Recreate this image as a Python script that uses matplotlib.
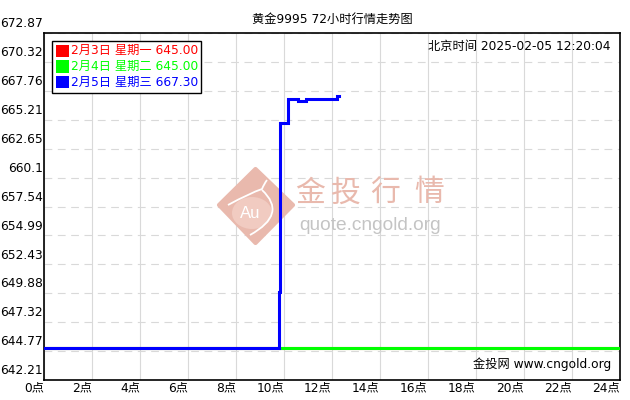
import matplotlib
matplotlib.use('Agg')
import matplotlib.pyplot as plt
import matplotlib.transforms as mtransforms
from matplotlib.patches import Polygon, Rectangle, PathPatch, Ellipse
from matplotlib.path import Path

plt.rcParams['font.family'] = ['DejaVu Sans', 'Noto Sans CJK SC']

W, H = 630, 400

HOUR_TICKS = list(range(0, 25, 2))
HOUR_LABELS = ['%d点' % h for h in HOUR_TICKS]
PRICE_TICKS = [642.21, 644.77, 647.32, 649.88, 652.43, 654.99, 657.54,
               660.1, 662.65, 665.21, 667.76, 670.32, 672.87]

day_labels = ['2月3日 星期一', '2月4日 星期二', '2月5日 星期三']
day_colors = ['#ff0000', '#00ff00', '#0000ff']
last_prices = [645.00, 645.00, 667.30]

feb3_hours = [0, 24]
feb3_prices = [645.00, 645.00]
feb4_hours = [0, 24]
feb4_prices = [645.00, 645.00]
feb5_hours = [0, 9.80, 9.84, 10.15, 10.60, 10.91, 12.20, 12.31]
feb5_prices = [645.00, 650.0, 664.9, 667.07, 666.83, 667.07, 667.30, 667.30]

title = '黄金9995 72小时行情走势图'
clock = '北京时间 2025-02-05 12:20:04'
site = '金投网 www.cngold.org'


def fx(x):
    return x / W


def fy(y):
    return 1 - y / H


fig = plt.figure(figsize=(6.3, 4.0), dpi=100)
ax = fig.add_axes([fx(44.3), fy(380), fx(619.5) - fx(44.3), fy(33) - fy(380)])

# day lines, oldest first so the latest sits on top
for hours, prices, c in zip([feb3_hours, feb4_hours, feb5_hours],
                            [feb3_prices, feb4_prices, feb5_prices], day_colors):
    ax.step(hours, prices, where='post', color=c, lw=2.2, zorder=3,
            solid_joinstyle='miter')

ax.set_xlim(0, 24)
ax.set_ylim(PRICE_TICKS[0], PRICE_TICKS[-1])
ax.set_xticks(HOUR_TICKS)
ax.set_xticklabels(HOUR_LABELS, ha='right', fontsize=8.8)
ax.set_yticks(PRICE_TICKS)
ax.set_yticklabels(['%g' % p for p in PRICE_TICKS], va='bottom', fontsize=8.8)
ax.tick_params(length=0)
ax.tick_params(axis='x', pad=1)
ax.tick_params(axis='y', pad=1)
shift = mtransforms.ScaledTranslation(0, 2 / 72, fig.dpi_scale_trans)
for lab in ax.get_yticklabels():
    lab.set_transform(lab.get_transform() + shift)

ax.grid(axis='x', color='#d9d9d9', lw=0.8, zorder=1.5)
ax.grid(axis='y', color='#d9d9d9', lw=0.8, linestyle=(0, (7, 5)), zorder=1.5)
ax.set_axisbelow(True)
for s in ax.spines.values():
    s.set_linewidth(1.2)

# watermark logo
salmon = '#e9b9ad'
diamond = Polygon([(fx(219), fy(205)), (fx(255.5), fy(169)), (fx(293), fy(205)),
                   (fx(255.5), fy(243))], closed=True, transform=fig.transFigure,
                  facecolor=salmon, edgecolor=salmon, lw=3, joinstyle='round', zorder=1)
ax.add_patch(diamond)
ax.add_patch(Ellipse((fx(252), fy(213)), 40 / W, 32 / H, transform=fig.transFigure,
                     facecolor='#f1cbc1', edgecolor='none', zorder=1))
wave = Path([(fx(228), fy(205)), (fx(250), fy(193)), (fx(262), fy(189)),
             (fx(264), fy(184)), (fx(267), fy(180))],
            [Path.MOVETO, Path.CURVE3, Path.CURVE3, Path.CURVE3, Path.CURVE3])
ax.add_patch(PathPatch(wave, transform=fig.transFigure, fill=False,
                       edgecolor='white', lw=1.3, zorder=1))
hook = Path([(fx(262), fy(190)), (fx(288), fy(214)), (fx(250), fy(235))],
            [Path.MOVETO, Path.CURVE3, Path.CURVE3])
ax.add_patch(PathPatch(hook, transform=fig.transFigure, fill=False,
                       edgecolor='white', lw=1.3, zorder=1))
ax.text(fx(250), fy(214), 'Au', transform=fig.transFigure, color='white',
        fontsize=12, family='Liberation Sans', ha='center', va='center', zorder=1)
for ch, cx in zip('金投行情', [310, 346, 385, 429]):
    ax.text(fx(cx), fy(193), ch, transform=fig.transFigure, color=salmon,
            fontsize=21.5, family='Noto Sans CJK SC', ha='center', va='center', zorder=1)
ax.text(fx(299), fy(226), 'quote.cngold.org', transform=fig.transFigure,
        color='#c4c4c4', fontsize=13.8, family='Liberation Sans',
        ha='left', va='center', zorder=1)

# texts
fig.text(fx(332), fy(19.5), title, ha='center', va='center', fontsize=8.8)
fig.text(fx(611), fy(46.5), clock, ha='right', va='center', fontsize=8.8)
ax.text(fx(611), fy(364), site, transform=fig.transFigure, ha='right',
        va='center', fontsize=8.8, zorder=4)

# legend box
fig.add_artist(Rectangle((fx(52.3), fy(92.7)), fx(201.3) - fx(52.3), fy(40.7) - fy(92.7),
                         transform=fig.transFigure, facecolor='white',
                         edgecolor='black', lw=1.0, zorder=5))
for i, (lab, c, p) in enumerate(zip(day_labels, day_colors, last_prices)):
    yc = [50.7, 66.5, 82.3][i]
    fig.add_artist(Rectangle((fx(56), fy(yc + 6)), fx(12.5), 12 / H,
                             transform=fig.transFigure, facecolor=c,
                             edgecolor='none', zorder=6))
    fig.text(fx(71), fy(yc), '%s %.2f' % (lab, p), color=c, ha='left',
             va='center', fontsize=8.8, zorder=6)

fig.savefig('out.png', dpi=100)
